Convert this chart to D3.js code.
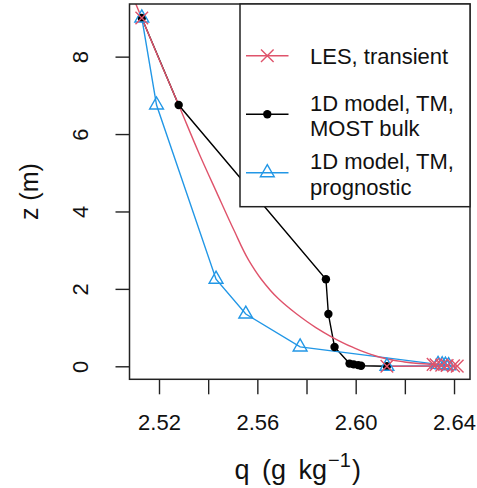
<!DOCTYPE html>
<html>
<head>
<meta charset="utf-8">
<script src="https://cdn.jsdelivr.net/npm/d3@7"></script>
<style>
  html, body { margin: 0; padding: 0; background: #fff; }
  svg { display: block; font-family: "Liberation Sans", Arial, Helvetica, sans-serif; }
</style>
</head>
<body>
<svg id="chart" width="477" height="488"></svg>
<script>
// Specific humidity profiles near the surface: LES vs. two 1D model set-ups.

// LES, transient: continuous profile (q in g/kg, z in m)
const lesQ = [2.5088, 2.5106, 2.5130, 2.5206, 2.5280, 2.5363, 2.5434, 2.5506, 2.5564,
              2.5616, 2.5685, 2.5760, 2.5838, 2.5905, 2.5985, 2.6065, 2.6120, 2.6190,
              2.6245, 2.6315, 2.6327, 2.6350, 2.6372, 2.6398, 2.6413, 2.6127];
const lesZ = [9.70, 9.36, 9.00, 7.85, 6.75, 5.50, 4.50, 3.50, 2.75,
              2.25, 1.75, 1.35, 1.00, 0.75, 0.50, 0.30, 0.20, 0.12,
              0.08, 0.05, 0.04, 0.03, 0.02, 0.01, 0.005, 0.0];
// LES values marked with crosses
const lesMarkQ = [2.5130, 2.6315, 2.6327, 2.6350, 2.6372, 2.6398, 2.6413, 2.6127];
const lesMarkZ = [9.00, 0.05, 0.04, 0.03, 0.02, 0.01, 0.005, 0.0];

// 1D model, TM, MOST bulk
const bulkQ = [2.5130, 2.5280, 2.5879, 2.5889, 2.5914, 2.5975, 2.5992, 2.6010, 2.6022, 2.6127];
const bulkZ = [9.00, 6.75, 2.25, 1.35, 0.50, 0.07, 0.05, 0.03, 0.015, 0.0];

// 1D model, TM, prognostic
const progQ = [2.5130, 2.5190, 2.5432, 2.5553, 2.5774, 2.6335, 2.6352, 2.6365, 2.6378, 2.6127];
const progZ = [9.00, 6.75, 2.25, 1.35, 0.50, 0.05, 0.04, 0.03, 0.015, 0.0];

// Axis ticks
const xTicks = [2.52, 2.54, 2.56, 2.58, 2.60, 2.62, 2.64];
const xTickLabels = ["2.52", "", "2.56", "", "2.60", "", "2.64"];
const yTicks = [0, 2, 4, 6, 8];
const yTickLabels = ["0", "2", "4", "6", "8"];

// Legend
const legendLines = [["LES, transient"], ["1D model, TM,", "MOST bulk"], ["1D model, TM,", "prognostic"]];

const RED = "#DF536B", BLUE = "#2297E6", BLACK = "#000000";

const svg = d3.select("#chart");
const plot = { left: 129.5, right: 470, top: 4, bottom: 379.3 };

const x = d3.scaleLinear().domain([2.508, 2.6465]).range([plot.left, plot.right]);
const y = d3.scaleLinear().domain([-0.336, 9.36]).range([plot.bottom, plot.top]);

svg.append("defs").append("clipPath").attr("id", "clip")
  .append("rect")
  .attr("x", plot.left).attr("y", plot.top)
  .attr("width", plot.right - plot.left).attr("height", plot.bottom - plot.top);

const zip = (qs, zs) => qs.map((q, i) => [q, zs[i]]);
const lesPts = zip(lesQ, lesZ), lesMarks = zip(lesMarkQ, lesMarkZ);
const bulkPts = zip(bulkQ, bulkZ), progPts = zip(progQ, progZ);

const g = svg.append("g").attr("clip-path", "url(#clip)");

const straight = d3.line().x(d => x(d[0])).y(d => y(d[1]));
const smooth = d3.line().x(d => x(d[0])).y(d => y(d[1])).curve(d3.curveMonotoneY);

g.append("path").attr("d", straight(bulkPts)).attr("fill", "none")
  .attr("stroke", BLACK).attr("stroke-width", 1.4);
g.append("path").attr("d", straight(progPts)).attr("fill", "none")
  .attr("stroke", BLUE).attr("stroke-width", 1.4);
g.append("path").attr("d", smooth(lesPts)).attr("fill", "none")
  .attr("stroke", RED).attr("stroke-width", 1.4);

// marker shapes
function dot(sel, cx, cy) {
  sel.append("circle").attr("cx", cx).attr("cy", cy).attr("r", 4.2).attr("fill", BLACK);
}
function tri(sel, cx, cy) {
  const r = 8;
  sel.append("path")
    .attr("d", `M${cx},${cy - r}L${cx + 0.866 * r},${cy + 0.5 * r}L${cx - 0.866 * r},${cy + 0.5 * r}Z`)
    .attr("fill", "none").attr("stroke", BLUE).attr("stroke-width", 1.4);
}
function cross(sel, cx, cy) {
  const h = 6.3;
  sel.append("path")
    .attr("d", `M${cx - h},${cy - h}L${cx + h},${cy + h}M${cx - h},${cy + h}L${cx + h},${cy - h}`)
    .attr("stroke", RED).attr("stroke-width", 1.4).attr("fill", "none");
}

bulkPts.forEach(d => dot(g, x(d[0]), y(d[1])));
progPts.forEach(d => tri(g, x(d[0]), y(d[1])));
lesMarks.forEach(d => cross(g, x(d[0]), y(d[1])));

// frame
svg.append("rect")
  .attr("x", plot.left).attr("y", plot.top)
  .attr("width", plot.right - plot.left).attr("height", plot.bottom - plot.top)
  .attr("fill", "none").attr("stroke", "#222").attr("stroke-width", 1.5);

// x axis
const xAxis = svg.append("g")
  .attr("transform", `translate(0,${plot.bottom})`)
  .call(d3.axisBottom(x).tickValues(xTicks)
    .tickFormat((d, i) => xTickLabels[i]).tickSize(15).tickPadding(20));
xAxis.select(".domain").remove();
xAxis.selectAll(".tick line").attr("stroke", "#222").attr("stroke-width", 1.4);
xAxis.selectAll(".tick text").attr("font-size", 22).attr("fill", "#111")
  .attr("font-family", "Liberation Sans, Arial, sans-serif");

// y axis with rotated labels
const yAxis = svg.append("g")
  .attr("transform", `translate(${plot.left},0)`)
  .call(d3.axisLeft(y).tickValues(yTicks)
    .tickFormat((d, i) => yTickLabels[i]).tickSize(14));
yAxis.select(".domain").remove();
yAxis.selectAll(".tick line").attr("stroke", "#222").attr("stroke-width", 1.4);
yAxis.selectAll(".tick text")
  .attr("font-size", 22).attr("fill", "#111")
  .attr("font-family", "Liberation Sans, Arial, sans-serif")
  .attr("x", null).attr("dy", null)
  .attr("text-anchor", "middle")
  .attr("transform", "translate(-42,0) rotate(-90)");

// axis titles
svg.append("text")
  .attr("transform", `translate(38,${(plot.top + plot.bottom) / 2}) rotate(-90)`)
  .attr("text-anchor", "middle").attr("font-size", 25).attr("fill", "#111")
  .text("z (m)");

const xt = svg.append("text")
  .attr("x", (plot.left + plot.right) / 2 - 2).attr("y", 479)
  .attr("text-anchor", "middle").attr("font-size", 27).attr("fill", "#111")
  .attr("word-spacing", 5);
xt.append("tspan").text("q (g kg");
xt.append("tspan").attr("font-size", 20).attr("dy", -12).attr("dx", 1).text("\u22121");
xt.append("tspan").attr("dy", 12).attr("dx", 1).text(")");

// legend
const lg = svg.append("g");
lg.append("rect").attr("x", 240).attr("y", plot.top)
  .attr("width", plot.right - 240).attr("height", 206.7 - plot.top)
  .attr("fill", "#fff").attr("stroke", "#222").attr("stroke-width", 1.5);

const symY = [55.7, 114.3, 172.7];
const baseY = [[63.5], [110.5, 136], [169, 194.5]];
const colors = [RED, BLACK, BLUE];
const markers = [cross, dot, tri];
legendLines.forEach((lines, i) => {
  lg.append("line").attr("x1", 246).attr("x2", 288.5)
    .attr("y1", symY[i]).attr("y2", symY[i])
    .attr("stroke", colors[i]).attr("stroke-width", 1.4);
  markers[i](lg, 267.3, symY[i]);
  lines.forEach((t, j) => {
    lg.append("text").attr("x", 310).attr("y", baseY[i][j])
      .attr("font-size", 22).attr("fill", "#111").text(t);
  });
});
</script>
</body>
</html>
